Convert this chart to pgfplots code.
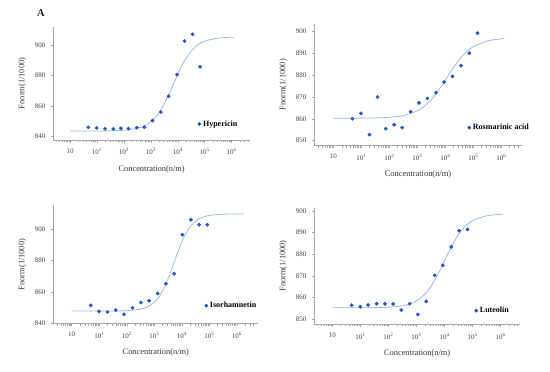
\documentclass[border=0pt]{standalone}
\usepackage{pgfplots}
\pgfplotsset{compat=1.18}
\usepackage{fontspec}
\setmainfont{Liberation Serif}
\usetikzlibrary{calc}
\definecolor{ptblue}{RGB}{35,85,200}
\definecolor{fitblue}{RGB}{160,183,228}
\definecolor{axgray}{RGB}{165,165,165}

\pgfplotsset{
 mstpanel/.style={
  scale only axis,
  anchor=south west,
  axis lines*=left,
  axis line style={draw=axgray, line width=0.6pt, -},
  xtick={0,1,2,3,4,5,6},
  xticklabels={10,10\textsuperscript{1},10\textsuperscript{2},10\textsuperscript{3},10\textsuperscript{4},10\textsuperscript{5},10\textsuperscript{6}},
  minor xtick={-0.523,-0.398,-0.301,-0.222,-0.155,-0.097,-0.046,
   0.301,0.477,0.602,0.699,0.778,0.845,0.903,0.954,
   1.301,1.477,1.602,1.699,1.778,1.845,1.903,1.954,
   2.301,2.477,2.602,2.699,2.778,2.845,2.903,2.954,
   3.301,3.477,3.602,3.699,3.778,3.845,3.903,3.954,
   4.301,4.477,4.602,4.699,4.778,4.845,4.903,4.954,
   5.301,5.477,5.602,5.699,5.778,5.845,5.903,5.954,
   6.301,6.477,6.602},
  tick style={draw=axgray, line width=0.5pt},
  tick align=outside,
  major tick length=2.5pt,
  minor tick length=2pt,
  ticklabel style={font=\fontsize{7}{8}\selectfont, text=black!75},
  xticklabel style={yshift=-2.5pt},
  yticklabel style={xshift=-2pt},
  /pgf/number format/assume math mode=true,
  /pgf/number format/1000 sep={},
  label style={font=\fontsize{8.4}{10}\selectfont, text=black!80},
  xlabel={Concentration(n/m)},
  ylabel={Fnorm(1/1000)},
  xlabel style={at={($(axis description cs:0.5,0)+(0,-29pt)$)}, anchor=center},
  ylabel style={at={($(axis description cs:0,0.5)+(-31pt,0)$)}, anchor=center},
  legend style={draw=none, fill=none, font=\fontsize{8}{9}\selectfont\bfseries, inner xsep=0pt, inner ysep=0pt, anchor=west},
  legend image code/.code={\draw[##1] plot coordinates {(0pt,0pt)};},
 },
 fitcurve/.style={fitblue, line width=0.8pt, smooth, forget plot},
 dots/.style={only marks, mark=*, mark size=1.7pt, color=ptblue, mark options={fill=ptblue, draw=ptblue}},
}

\begin{document}
\begin{tikzpicture}
\path[use as bounding box] (0,0) rectangle (550pt,-372pt);
\node[font=\fontsize{10.5}{12}\selectfont\bfseries, text=black!85] at (41pt,-13pt) {A};

% Panel 1: Hypericin
\begin{axis}[mstpanel, at={(53.3pt,-140pt)}, width=196.7pt, height=113.3pt,
  xmin=-0.62, xmax=6.68, ymin=837.8, ymax=912, ytick={840,860,880,900},
  legend style={at={(0.733,0.141)}}]
\addplot[fitcurve] coordinates {(0,843.70)(0.5,843.71)(1,843.73)(1.5,843.83)(2,844.17)(2.5,845.42)(2.75,846.95)(3,849.71)(3.25,854.38)(3.5,861.50)(3.75,870.85)(4,880.93)(4.25,889.75)(4.5,896.17)(4.75,900.22)(5,902.57)(5.5,904.55)(6,905.10)(6.1,905.15)};
\addplot[dots] coordinates {(0.68,846.1)(0.99,845.7)(1.30,845.2)(1.61,845.0)(1.89,845.5)(2.17,845.2)(2.48,845.9)(2.76,846.1)(3.06,850.5)(3.37,856.1)(3.66,866.4)(3.97,880.6)(4.25,902.6)(4.55,907.0)(4.83,885.8)};
\addlegendentry{Hypericin}
\end{axis}

% Panel 2: Rosmarinic acid
\begin{axis}[mstpanel, at={(314.3pt,-145.7pt)}, width=207.4pt, height=121.7pt,
  xmin=-0.68, xmax=6.73, ymin=847.7, ymax=903.5, ytick={850,860,870,880,890,900},
  legend style={at={(0.738,0.148)}}]
\addplot[fitcurve] coordinates {(0,860.31)(0.5,860.32)(1,860.35)(1.5,860.44)(2,860.71)(2.5,861.50)(3,863.67)(3.25,865.76)(3.5,868.82)(3.75,872.90)(4,877.74)(4.25,882.72)(4.5,887.16)(4.75,890.64)(5,893.10)(5.5,895.72)(6,896.69)(6.1,896.79)};
\addplot[dots] coordinates {(0.68,860.1)(0.99,862.5)(1.29,852.8)(1.58,870.0)(1.87,855.5)(2.17,857.3)(2.46,856.0)(2.76,863.3)(3.06,867.3)(3.36,869.4)(3.67,872.0)(3.96,876.9)(4.26,879.5)(4.56,884.4)(4.86,890.1)(5.15,899.3)};
\addlegendentry{Rosmarinic acid}
\end{axis}

% Panel 3: Isorhamnetin
\begin{axis}[mstpanel, at={(53.3pt,-323.7pt)}, width=205pt, height=118.4pt,
  xmin=-0.67, xmax=6.78, ymin=839.6, ymax=915.5, ytick={840,860,880,900},
  legend style={at={(0.737,0.152)}}]
\addplot[fitcurve] coordinates {(0,847.70)(1,847.71)(1.5,847.75)(2,847.94)(2.5,848.90)(2.75,850.32)(3,853.27)(3.25,858.93)(3.5,868.25)(3.75,880.36)(4,892.03)(4.25,900.44)(4.5,905.34)(4.75,907.83)(5,909.01)(5.5,909.80)(6,909.96)(6.24,910.00)};
\addplot[dots] coordinates {(0.69,851.3)(0.99,847.5)(1.30,847.1)(1.60,848.3)(1.90,845.6)(2.21,849.8)(2.51,853.2)(2.81,854.3)(3.12,859.0)(3.42,865.2)(3.72,871.6)(4.02,896.6)(4.33,906.2)(4.63,903.0)(4.93,903.0)};
\addlegendentry{Isorhamnetin}
\end{axis}

% Panel 4: Luteolin
\begin{axis}[mstpanel, at={(314.3pt,-324.3pt)}, width=205.7pt, height=116.6pt,
  xmin=-0.64, xmax=6.69, ymin=847.7, ymax=901.5, ytick={850,860,870,880,890,900},
  legend style={at={(0.778,0.117)}}]
\addplot[fitcurve] coordinates {(0,855.30)(1,855.32)(1.5,855.38)(2,855.57)(2.5,856.25)(2.75,857.06)(3,858.49)(3.25,860.95)(3.5,864.84)(3.75,870.35)(4,877.00)(4.25,883.65)(4.5,889.16)(4.75,893.05)(5,895.51)(5.5,897.75)(6,898.43)(6.09,898.48)};
\addplot[dots] coordinates {(0.69,856.5)(1.00,855.8)(1.28,856.6)(1.58,857.2)(1.88,857.1)(2.17,857.1)(2.46,854.3)(2.76,857.2)(3.05,852.2)(3.35,858.3)(3.65,870.3)(3.94,874.9)(4.24,883.4)(4.52,890.9)(4.82,891.5)};
\addlegendentry{Luteolin}
\end{axis}
\end{tikzpicture}
\end{document}
